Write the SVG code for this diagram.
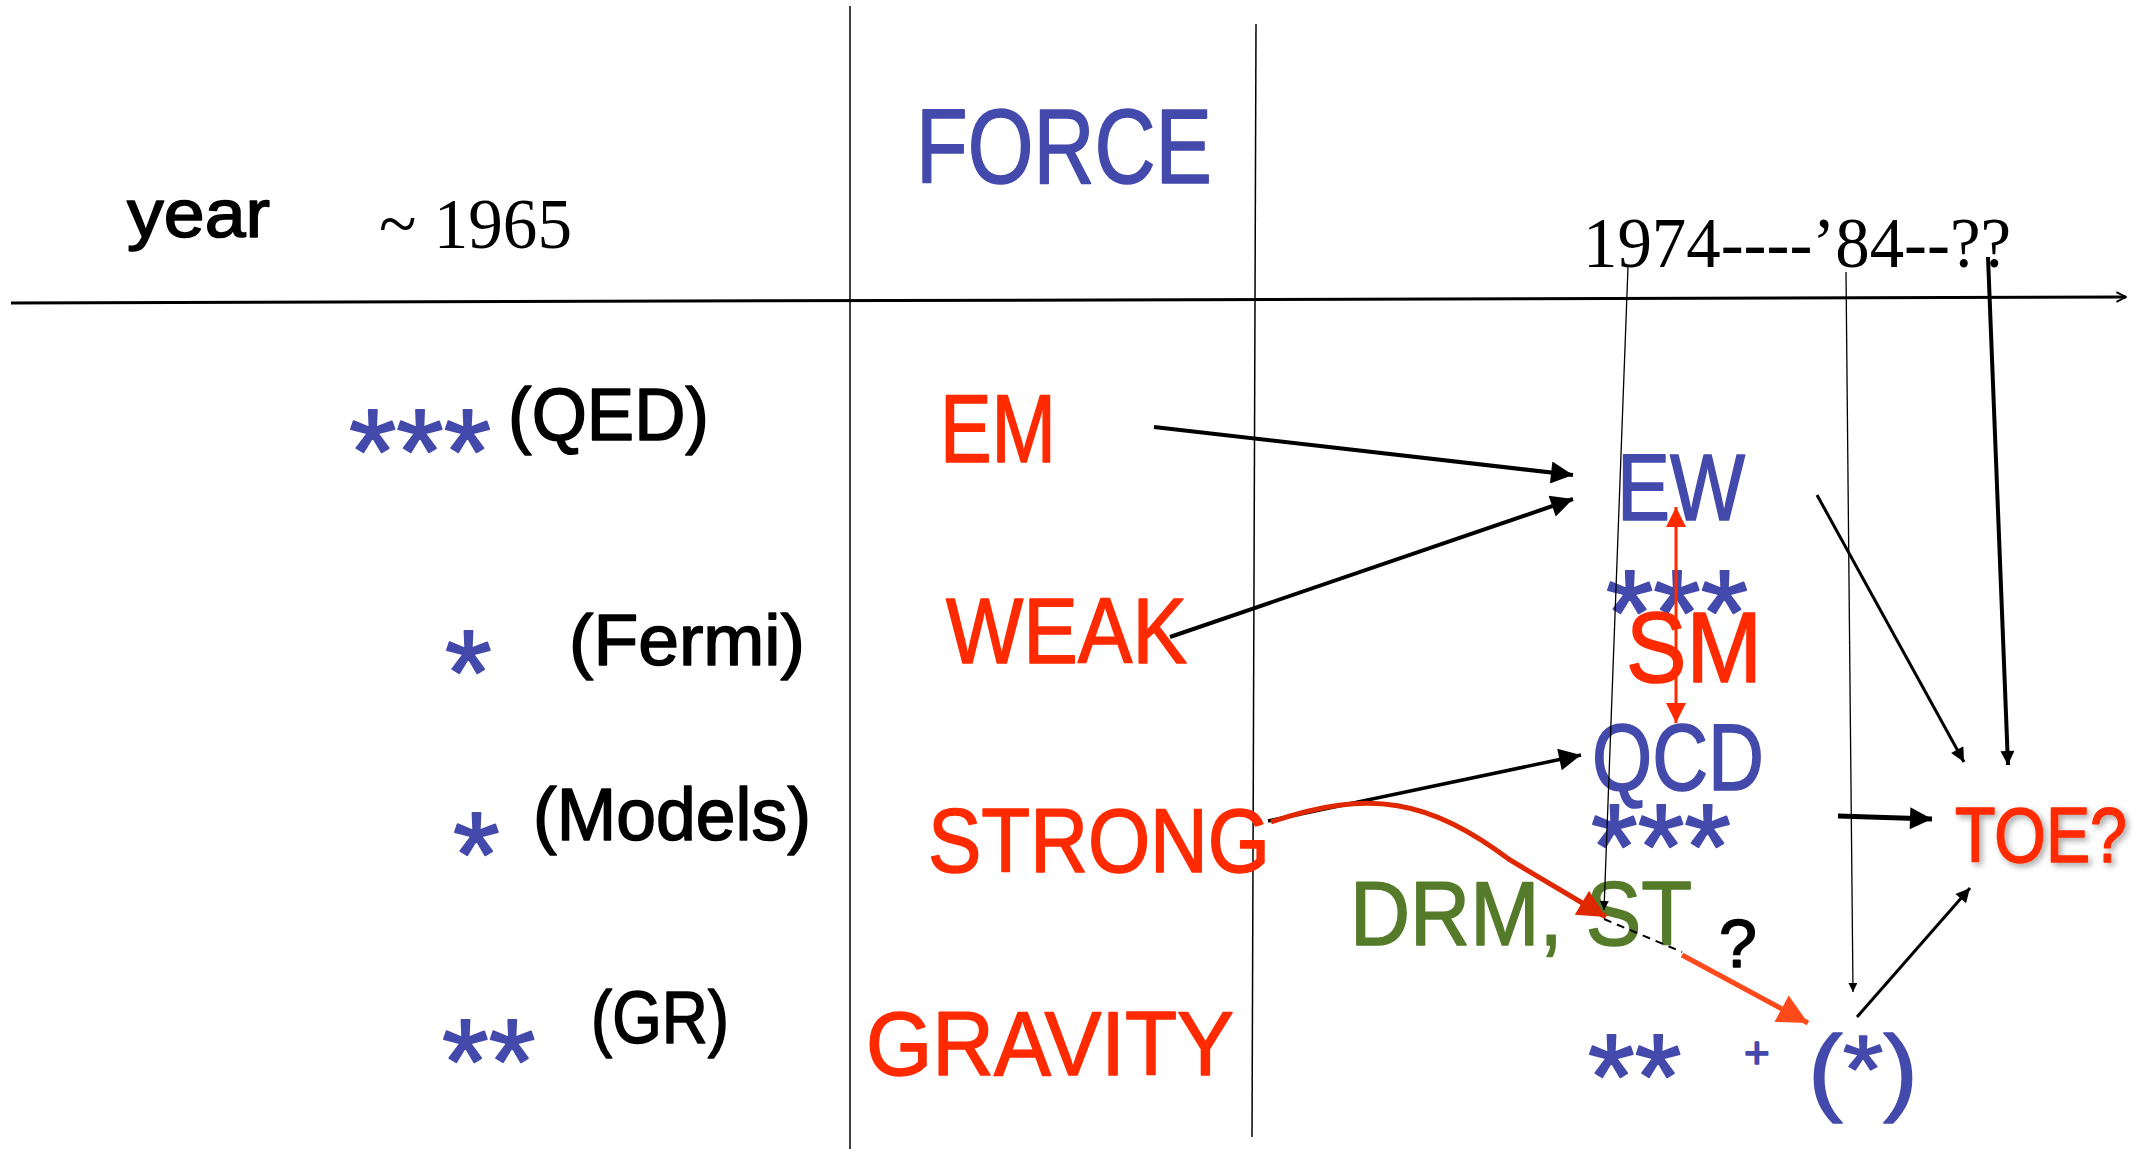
<svg xmlns="http://www.w3.org/2000/svg" width="2142" height="1149" viewBox="0 0 2142 1149">
<style>
.h{font-family:"Liberation Sans",Arial,sans-serif;stroke-width:1.6;stroke-linejoin:round}
.t{font-family:"Liberation Serif","Times New Roman",serif;fill:#000}
.b{fill:#434AAB;stroke:#434AAB}
.r{fill:#FF2A00;stroke:#FF2A00}
.g{fill:#557B2A;stroke:#557B2A}
.k{fill:#000;stroke:#000}
.st{stroke-width:1.8}
.ln{stroke:#000;fill:none}
</style>
<defs>
<marker id="ah" viewBox="0 0 10 10" refX="10" refY="5" markerUnits="userSpaceOnUse" markerWidth="24" markerHeight="22" orient="auto"><path d="M0,0 L10,5 L0,10 z" fill="#000"/></marker>
<marker id="ahm" viewBox="0 0 10 10" refX="10" refY="5" markerUnits="userSpaceOnUse" markerWidth="16" markerHeight="14" orient="auto"><path d="M0,0 L10,5 L0,10 z" fill="#000"/></marker>
<marker id="ahs" viewBox="0 0 10 10" refX="10" refY="5" markerUnits="userSpaceOnUse" markerWidth="11" markerHeight="9" orient="auto"><path d="M0,0 L10,5 L0,10 z" fill="#000"/></marker>
<marker id="axis" viewBox="0 0 10 10" refX="9" refY="5" markerUnits="userSpaceOnUse" markerWidth="12" markerHeight="16" orient="auto"><path d="M1,1 L9,5 L1,9" fill="none" stroke="#000" stroke-width="1.6"/></marker>
<marker id="rd" viewBox="0 0 10 10" refX="10" refY="5" markerUnits="userSpaceOnUse" markerWidth="20" markerHeight="20" orient="auto-start-reverse"><path d="M0,0 L10,5 L0,10 z" fill="#FF2A00"/></marker>
<marker id="rc" viewBox="0 0 10 10" refX="10" refY="5" markerUnits="userSpaceOnUse" markerWidth="32" markerHeight="28" orient="auto"><path d="M0,0 L10,5 L0,10 z" fill="#E02800"/></marker>
<marker id="ro" viewBox="0 0 10 10" refX="10" refY="5" markerUnits="userSpaceOnUse" markerWidth="34" markerHeight="30" orient="auto"><path d="M0,0 L10,5 L0,10 z" fill="#FF4A1C"/></marker>
<filter id="sh" x="-20%" y="-30%" width="140%" height="160%"><feDropShadow dx="3" dy="3" stdDeviation="3" flood-color="#000" flood-opacity="0.35"/></filter>
</defs>

<g id="grid">
<line class="ln" x1="11" y1="303" x2="2126" y2="297" stroke-width="3" marker-end="url(#axis)"/>
<line class="ln" x1="850" y1="6" x2="850" y2="1149" stroke-width="1.5"/>
<line class="ln" x1="1256" y1="24" x2="1252" y2="1137" stroke-width="1.5"/>
</g>

<g id="header">
<text class="h k" x="127" y="237" font-size="68" textLength="143" lengthAdjust="spacingAndGlyphs">year</text>
<text class="t" x="379" y="248" font-size="72" textLength="193" lengthAdjust="spacingAndGlyphs">~ 1965</text>
<text class="h b" x="916" y="183" font-size="106" textLength="296" lengthAdjust="spacingAndGlyphs">FORCE</text>
<text class="t" x="1583" y="267" font-size="72" textLength="428" lengthAdjust="spacingAndGlyphs">1974----’84--??</text>
</g>

<g id="qed">
<text class="h b st" x="349" y="493" font-size="120" textLength="142" lengthAdjust="spacingAndGlyphs">***</text>
<text class="h k" x="508" y="440" font-size="74" textLength="201" lengthAdjust="spacingAndGlyphs">(QED)</text>
</g>
<g id="fermi">
<text class="h b st" x="445" y="714" font-size="120">*</text>
<text class="h k" x="569" y="665" font-size="73" textLength="236" lengthAdjust="spacingAndGlyphs">(Fermi)</text>
</g>
<g id="models">
<text class="h b st" x="453" y="896" font-size="120">*</text>
<text class="h k" x="533" y="840" font-size="74" textLength="278" lengthAdjust="spacingAndGlyphs">(Models)</text>
</g>
<g id="gr">
<text class="h b st" x="442" y="1103" font-size="120">**</text>
<text class="h k" x="591" y="1043" font-size="74" textLength="138" lengthAdjust="spacingAndGlyphs">(GR)</text>
</g>

<g id="em"><text class="h r" x="940" y="462" font-size="96" textLength="116" lengthAdjust="spacingAndGlyphs">EM</text></g>
<g id="weak"><text class="h r" x="946" y="663" font-size="92" textLength="241" lengthAdjust="spacingAndGlyphs">WEAK</text></g>
<g id="strong"><text class="h r" x="928" y="872" font-size="91" textLength="342" lengthAdjust="spacingAndGlyphs">STRONG</text></g>
<g id="gravity"><text class="h r" x="866" y="1075" font-size="91" textLength="368" lengthAdjust="spacingAndGlyphs">GRAVITY</text></g>

<g id="ew">
<text class="h b" x="1617" y="520" font-size="95" textLength="128" lengthAdjust="spacingAndGlyphs">EW</text>
<text class="h b st" x="1606" y="654" font-size="120" textLength="142" lengthAdjust="spacingAndGlyphs">***</text>
</g>
<g id="sm"><text class="h r" x="1626" y="682" font-size="100" textLength="136" lengthAdjust="spacingAndGlyphs">SM</text></g>
<g id="qcd">
<text class="h b" x="1592" y="790" font-size="94" textLength="172" lengthAdjust="spacingAndGlyphs">QCD</text>
<text class="h b st" x="1591" y="888" font-size="120" textLength="140" lengthAdjust="spacingAndGlyphs">***</text>
</g>
<g id="drm"><text class="h g" x="1350" y="945" font-size="91" textLength="342" lengthAdjust="spacingAndGlyphs">DRM, ST</text></g>
<g id="q"><text class="h k" x="1719" y="967" font-size="68">?</text></g>
<g id="toe"><text class="h r" x="1955" y="862" font-size="77" textLength="172" lengthAdjust="spacingAndGlyphs" filter="url(#sh)">TOE?</text></g>
<g id="star">
<text class="h b st" x="1588" y="1118" font-size="120">**</text>
<text class="h b" x="1744" y="1068" font-size="44">+</text>
<text class="h b" x="1808" y="1103" font-size="97" textLength="110" lengthAdjust="spacingAndGlyphs">(*)</text>
</g>

<g id="connectors">
<line class="ln" x1="1154" y1="427" x2="1573" y2="475" stroke-width="4" marker-end="url(#ah)"/>
<line class="ln" x1="1170" y1="637" x2="1573" y2="499" stroke-width="4" marker-end="url(#ah)"/>
<line class="ln" x1="1268" y1="821" x2="1581" y2="755" stroke-width="3.5" marker-end="url(#ah)"/>
<line class="ln" x1="1817" y1="495" x2="1964" y2="762" stroke-width="3" marker-end="url(#ahm)"/>
<line class="ln" x1="1628" y1="267" x2="1604" y2="910" stroke-width="1.3" marker-end="url(#ahs)"/>
<line class="ln" x1="1846" y1="272" x2="1853" y2="992" stroke-width="1.3" marker-end="url(#ahs)"/>
<line class="ln" x1="1988" y1="257" x2="2008" y2="765" stroke-width="4" marker-end="url(#ahm)"/>
<line class="ln" x1="1838" y1="816" x2="1932" y2="819" stroke-width="5" marker-end="url(#ah)"/>
<line class="ln" x1="1857" y1="1017" x2="1970" y2="888" stroke-width="3" marker-end="url(#ahm)"/>
<line x1="1676" y1="507" x2="1676" y2="723" stroke="#FF2A00" stroke-width="3" marker-start="url(#rd)" marker-end="url(#rd)"/>
<path d="M1271,822 C1370,788 1430,800 1510,860 L1606,917" fill="none" stroke="#E02800" stroke-width="5" marker-end="url(#rc)"/>
<line class="ln" x1="1604" y1="919" x2="1682" y2="952" stroke-width="2" stroke-dasharray="8 6"/>
<line x1="1682" y1="955" x2="1808" y2="1023" stroke="#FF4A1C" stroke-width="5" marker-end="url(#ro)"/>
</g>
</svg>
